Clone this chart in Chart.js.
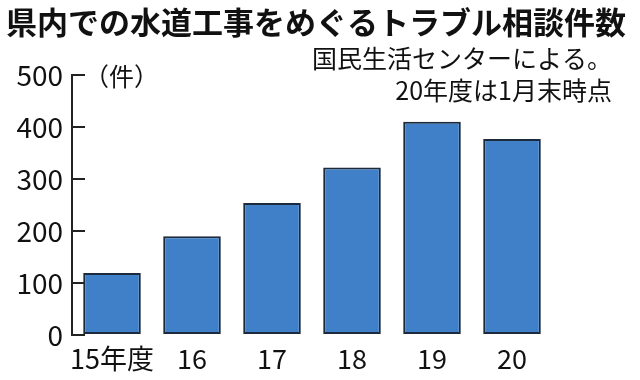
<!DOCTYPE html>
<html>
<head>
<meta charset="utf-8">
<script src="https://cdn.jsdelivr.net/npm/chart.js@4/dist/chart.umd.min.js"></script>
<style>
  html, body { margin: 0; padding: 0; background: #fff; }
  #wrap { width: 640px; height: 380px; position: relative; }
</style>
</head>
<body>
<div id="wrap"><canvas id="c"></canvas></div>
<script>
/* ── data ── */
const years   = ['15年度', '16', '17', '18', '19', '20'];
const counts  = [119, 190, 254, 322, 410, 377];
const yTicks  = [0, 100, 200, 300, 400, 500];

const TITLE = '県内での水道工事をめぐるトラブル相談件数';
const NOTE  = ['国民生活センターによる。', '20年度は1月末時点'];
const UNIT  = '（件）';

const FONT = "'Noto Sans CJK JP', sans-serif";

/* ── title, note and unit label ── */
const textPlugin = {
  id: 'texts',
  afterDraw(chart) {
    const ctx = chart.ctx;
    const y = chart.scales.y;
    ctx.save();
    ctx.fillStyle = '#111';
    ctx.textBaseline = 'middle';

    ctx.font = 'bold 31px ' + FONT;
    ctx.textAlign = 'left';
    ctx.fillText(TITLE, 6, 22);

    ctx.font = '25px ' + FONT;
    ctx.textAlign = 'right';
    ctx.fillText(NOTE[0], 612, 58);
    ctx.fillText(NOTE[1], 612, 90);

    ctx.textAlign = 'left';
    ctx.fillText(UNIT, 84, y.getPixelForValue(500) + 1);
    ctx.restore();
  }
};

new Chart(document.getElementById('c'), {
  type: 'bar',
  data: {
    labels: years,
    datasets: [{
      data: counts,
      backgroundColor: '#3f80c9',
      borderColor: '#1d2a3c',
      borderWidth: 2,
      borderSkipped: false,
      barPercentage: 0.72,
      categoryPercentage: 1,
    }],
  },
  options: {
    responsive: true,
    maintainAspectRatio: false,
    animation: false,
    layout: { padding: { top: 75, right: 88, bottom: 0, left: 0 } },
    plugins: { legend: { display: false }, tooltip: { enabled: false } },
    scales: {
      x: {
        grid: { display: false },
        border: { display: false },
        ticks: {
          color: '#111', font: { family: FONT, size: 27 }, padding: 0,
          maxRotation: 0, minRotation: 0, autoSkip: false,
        },
        afterFit: s => { s.height = 45; },
      },
      y: {
        min: 0, max: 500,
        afterBuildTicks: s => { s.ticks = yTicks.map(v => ({ value: v })); },
        grid: { drawOnChartArea: false, tickLength: -13, color: '#222', lineWidth: 2 },
        border: { display: true, color: '#222', width: 2 },
        ticks: { color: '#111', font: { family: FONT, size: 28 }, padding: 22 },
        afterFit: s => { s.width = 72; },
      },
    },
  },
  plugins: [textPlugin],
});
</script>
</body>
</html>
